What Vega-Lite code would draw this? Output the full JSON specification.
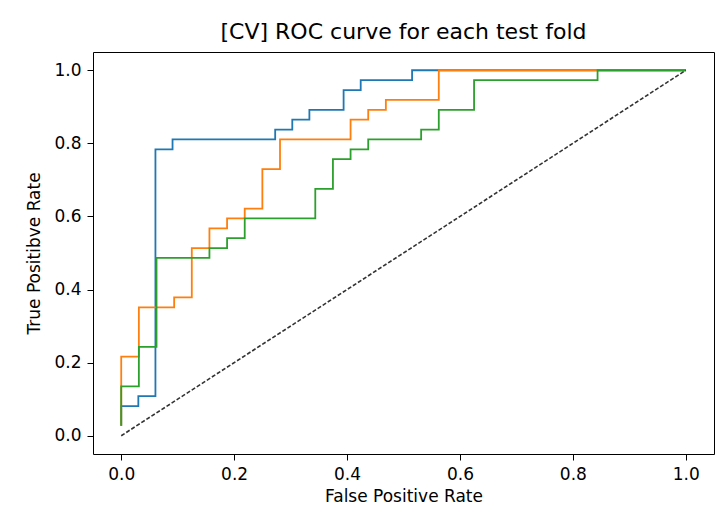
{
  "$schema": "https://vega.github.io/schema/vega-lite/v6.json",
  "autosize": "none",
  "width": 621,
  "height": 402,
  "padding": {"left": 93, "top": 52, "right": 6, "bottom": 66},
  "background": "white",
  "title": {"text": "[CV] ROC curve for each test fold", "fontSize": 22, "font": "DejaVu Sans", "fontWeight": "normal", "color": "#000000", "anchor": "middle", "offset": 8},
  "config": {
    "view": {"stroke": "#000000", "strokeWidth": 1},
    "axis": {
      "grid": false,
      "domain": false,
      "tickColor": "#000000",
      "tickSize": 6,
      "labelFont": "DejaVu Sans",
      "labelFontSize": 17,
      "labelColor": "#000000",
      "labelPadding": 6,
      "titleFont": "DejaVu Sans",
      "titleFontSize": 17,
      "titleFontWeight": "normal",
      "titleColor": "#000000"
    }
  },
  "datasets": {
    "roc": [
      {"fold": "0", "i": 0, "fpr": 0.0, "tpr": 0.027},
      {"fold": "0", "i": 1, "fpr": 0.0, "tpr": 0.0811},
      {"fold": "0", "i": 2, "fpr": 0.0303, "tpr": 0.0811},
      {"fold": "0", "i": 3, "fpr": 0.0303, "tpr": 0.1081},
      {"fold": "0", "i": 4, "fpr": 0.0606, "tpr": 0.1081},
      {"fold": "0", "i": 5, "fpr": 0.0606, "tpr": 0.7838},
      {"fold": "0", "i": 6, "fpr": 0.0909, "tpr": 0.7838},
      {"fold": "0", "i": 7, "fpr": 0.0909, "tpr": 0.8108},
      {"fold": "0", "i": 8, "fpr": 0.2727, "tpr": 0.8108},
      {"fold": "0", "i": 9, "fpr": 0.2727, "tpr": 0.8378},
      {"fold": "0", "i": 10, "fpr": 0.303, "tpr": 0.8378},
      {"fold": "0", "i": 11, "fpr": 0.303, "tpr": 0.8649},
      {"fold": "0", "i": 12, "fpr": 0.3333, "tpr": 0.8649},
      {"fold": "0", "i": 13, "fpr": 0.3333, "tpr": 0.8919},
      {"fold": "0", "i": 14, "fpr": 0.3939, "tpr": 0.8919},
      {"fold": "0", "i": 15, "fpr": 0.3939, "tpr": 0.9459},
      {"fold": "0", "i": 16, "fpr": 0.4242, "tpr": 0.9459},
      {"fold": "0", "i": 17, "fpr": 0.4242, "tpr": 0.973},
      {"fold": "0", "i": 18, "fpr": 0.5152, "tpr": 0.973},
      {"fold": "0", "i": 19, "fpr": 0.5152, "tpr": 1.0},
      {"fold": "0", "i": 20, "fpr": 1.0, "tpr": 1.0},
      {"fold": "1", "i": 0, "fpr": 0.0, "tpr": 0.027},
      {"fold": "1", "i": 1, "fpr": 0.0, "tpr": 0.2162},
      {"fold": "1", "i": 2, "fpr": 0.03125, "tpr": 0.2162},
      {"fold": "1", "i": 3, "fpr": 0.03125, "tpr": 0.3514},
      {"fold": "1", "i": 4, "fpr": 0.09375, "tpr": 0.3514},
      {"fold": "1", "i": 5, "fpr": 0.09375, "tpr": 0.3784},
      {"fold": "1", "i": 6, "fpr": 0.125, "tpr": 0.3784},
      {"fold": "1", "i": 7, "fpr": 0.125, "tpr": 0.5135},
      {"fold": "1", "i": 8, "fpr": 0.15625, "tpr": 0.5135},
      {"fold": "1", "i": 9, "fpr": 0.15625, "tpr": 0.5676},
      {"fold": "1", "i": 10, "fpr": 0.1875, "tpr": 0.5676},
      {"fold": "1", "i": 11, "fpr": 0.1875, "tpr": 0.5946},
      {"fold": "1", "i": 12, "fpr": 0.21875, "tpr": 0.5946},
      {"fold": "1", "i": 13, "fpr": 0.21875, "tpr": 0.6216},
      {"fold": "1", "i": 14, "fpr": 0.25, "tpr": 0.6216},
      {"fold": "1", "i": 15, "fpr": 0.25, "tpr": 0.7297},
      {"fold": "1", "i": 16, "fpr": 0.28125, "tpr": 0.7297},
      {"fold": "1", "i": 17, "fpr": 0.28125, "tpr": 0.8108},
      {"fold": "1", "i": 18, "fpr": 0.40625, "tpr": 0.8108},
      {"fold": "1", "i": 19, "fpr": 0.40625, "tpr": 0.8649},
      {"fold": "1", "i": 20, "fpr": 0.4375, "tpr": 0.8649},
      {"fold": "1", "i": 21, "fpr": 0.4375, "tpr": 0.8919},
      {"fold": "1", "i": 22, "fpr": 0.46875, "tpr": 0.8919},
      {"fold": "1", "i": 23, "fpr": 0.46875, "tpr": 0.9189},
      {"fold": "1", "i": 24, "fpr": 0.5625, "tpr": 0.9189},
      {"fold": "1", "i": 25, "fpr": 0.5625, "tpr": 1.0},
      {"fold": "1", "i": 26, "fpr": 1.0, "tpr": 1.0},
      {"fold": "2", "i": 0, "fpr": 0.0, "tpr": 0.027},
      {"fold": "2", "i": 1, "fpr": 0.0, "tpr": 0.1351},
      {"fold": "2", "i": 2, "fpr": 0.03125, "tpr": 0.1351},
      {"fold": "2", "i": 3, "fpr": 0.03125, "tpr": 0.2432},
      {"fold": "2", "i": 4, "fpr": 0.0625, "tpr": 0.2432},
      {"fold": "2", "i": 5, "fpr": 0.0625, "tpr": 0.4865},
      {"fold": "2", "i": 6, "fpr": 0.15625, "tpr": 0.4865},
      {"fold": "2", "i": 7, "fpr": 0.15625, "tpr": 0.5135},
      {"fold": "2", "i": 8, "fpr": 0.1875, "tpr": 0.5135},
      {"fold": "2", "i": 9, "fpr": 0.1875, "tpr": 0.5405},
      {"fold": "2", "i": 10, "fpr": 0.21875, "tpr": 0.5405},
      {"fold": "2", "i": 11, "fpr": 0.21875, "tpr": 0.5946},
      {"fold": "2", "i": 12, "fpr": 0.34375, "tpr": 0.5946},
      {"fold": "2", "i": 13, "fpr": 0.34375, "tpr": 0.6757},
      {"fold": "2", "i": 14, "fpr": 0.375, "tpr": 0.6757},
      {"fold": "2", "i": 15, "fpr": 0.375, "tpr": 0.7568},
      {"fold": "2", "i": 16, "fpr": 0.40625, "tpr": 0.7568},
      {"fold": "2", "i": 17, "fpr": 0.40625, "tpr": 0.7838},
      {"fold": "2", "i": 18, "fpr": 0.4375, "tpr": 0.7838},
      {"fold": "2", "i": 19, "fpr": 0.4375, "tpr": 0.8108},
      {"fold": "2", "i": 20, "fpr": 0.53125, "tpr": 0.8108},
      {"fold": "2", "i": 21, "fpr": 0.53125, "tpr": 0.8378},
      {"fold": "2", "i": 22, "fpr": 0.5625, "tpr": 0.8378},
      {"fold": "2", "i": 23, "fpr": 0.5625, "tpr": 0.8919},
      {"fold": "2", "i": 24, "fpr": 0.625, "tpr": 0.8919},
      {"fold": "2", "i": 25, "fpr": 0.625, "tpr": 0.973},
      {"fold": "2", "i": 26, "fpr": 0.84375, "tpr": 0.973},
      {"fold": "2", "i": 27, "fpr": 0.84375, "tpr": 1.0},
      {"fold": "2", "i": 28, "fpr": 1.0, "tpr": 1.0}
    ],
    "diag": [
      {"fpr": 0.0, "tpr": 0.0},
      {"fpr": 1.0, "tpr": 1.0}
    ]
  },
  "layer": [
    {
      "data": {"name": "roc"},
      "mark": {"type": "line", "strokeWidth": 1.8, "clip": true},
      "encoding": {
        "x": {"field": "fpr", "type": "quantitative", "scale": {"domain": [-0.05, 1.05], "nice": false, "zero": false}, "axis": {"values": [0, 0.2, 0.4, 0.6, 0.8, 1.0], "format": ".1f", "title": "False Positive Rate", "titlePadding": 6}},
        "y": {"field": "tpr", "type": "quantitative", "scale": {"domain": [-0.05, 1.05], "nice": false, "zero": false}, "axis": {"values": [0, 0.2, 0.4, 0.6, 0.8, 1.0], "format": ".1f", "title": "True Positibve Rate", "titlePadding": 10}},
        "color": {"field": "fold", "type": "nominal", "scale": {"domain": ["0", "1", "2"], "range": ["#1f77b4", "#ff7f0e", "#2ca02c"]}, "legend": null},
        "order": {"field": "i", "type": "quantitative"}
      }
    },
    {
      "data": {"name": "diag"},
      "mark": {"type": "line", "strokeWidth": 1.6, "color": "#333333", "strokeDash": [4, 2]},
      "encoding": {
        "x": {"field": "fpr", "type": "quantitative"},
        "y": {"field": "tpr", "type": "quantitative"}
      }
    }
  ]
}
